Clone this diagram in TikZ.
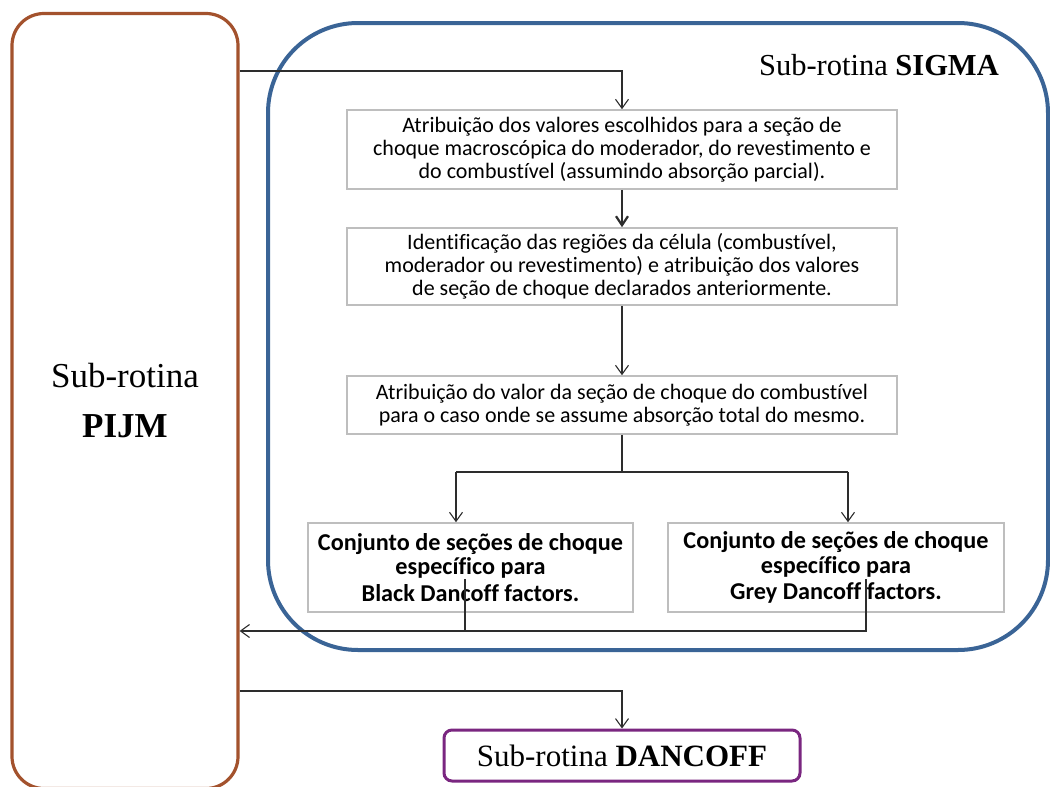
\documentclass[tikz,border=0pt]{standalone}
\usepackage{fontspec}
\setmainfont{Liberation Serif}
\newfontfamily\boxfont[Ligatures=NoCommon]{Carlito}
\usetikzlibrary{arrows.meta}
\definecolor{pijmbrown}{RGB}{163,82,45}
\definecolor{sigmablue}{RGB}{58,100,150}
\definecolor{dancpurple}{RGB}{122,38,128}
\definecolor{boxgray}{RGB}{190,190,190}
\definecolor{linkgray}{RGB}{45,45,45}
\begin{document}
\begin{tikzpicture}[x=1pt,y=-1pt,
  routine/.style={draw, rounded corners=#1, inner sep=0pt},
  stepbox/.style={draw=boxgray, line width=1.6pt, inner sep=0pt, align=center,
    font=\boxfont\fontsize{22}{23}\selectfont},
  setbox/.style={stepbox, font=\boxfont\bfseries\fontsize{24.2}{24.5}\selectfont},
  link/.style={draw=linkgray, line width=1.1pt},
  arr/.style={link, -{Straight Barb[length=9pt,width=13pt,line width=1.1pt]}},
  thickarr/.style={draw=linkgray, line width=2.2pt, -{Straight Barb[length=9pt,width=12pt,line width=2.2pt]}}
]
\useasboundingbox (0,0) rectangle (1050,787);
\clip (0,0) rectangle (1050,787);

% routine frames
\node[routine=32, draw=pijmbrown, line width=3.2pt, minimum width=226pt, minimum height=775pt,
  align=center, font=\fontsize{35}{48}\selectfont] (pijm) at (125,401)
  {Sub-rotina\\[2pt]\textbf{PIJM}};
\node[routine=90, draw=sigmablue, line width=4pt, minimum width=780pt, minimum height=627pt]
  (sigma) at (658,336.5) {};
\node[font=\fontsize{30.5}{36}\selectfont, anchor=base east, inner sep=0pt] (sigmalabel) at (999,75)
  {Sub-rotina \textbf{SIGMA}};
\node[routine=8, draw=dancpurple, line width=3pt, minimum width=356pt, minimum height=51pt,
  font=\fontsize{31}{36}\selectfont] (danc) at (622,755.5) {Sub-rotina \textbf{DANCOFF}};

% processing steps
\node[stepbox, minimum width=550pt, minimum height=79pt] (b1) at (622,149.5)
  {Atribuição dos valores escolhidos para a seção de\\
   choque macroscópica do moderador, do revestimento e\\
   do combustível (assumindo absorção parcial).};
\node[stepbox, minimum width=550pt, minimum height=77pt] (b2) at (622,266.5)
  {Identificação das regiões da célula (combustível,\\
   moderador ou revestimento) e atribuição dos valores\\
   de seção de choque declarados anteriormente.};
\node[stepbox, minimum width=550pt, minimum height=58pt] (b3) at (622,405)
  {Atribuição do valor da seção de choque do combustível\\
   para o caso onde se assume absorção total do mesmo.};
\node[setbox, minimum width=325pt, minimum height=89pt] (b4) at (470.5,567.5)
  {Conjunto de seções de choque\\ específico para\\[2pt] Black Dancoff factors.};
\node[setbox, minimum width=336pt, minimum height=89pt] (b5) at (836,567.5)
  {Conjunto de seções de choque\\ específico para\\[2pt] Grey Dancoff factors.};

% connection points
\coordinate (split) at (622,472);
\coordinate (r4) at (465,579);
\coordinate (r5) at (866,579);

% connectors
\draw[arr] (pijm.east |- {(0,71)}) -| (b1.north);
\draw[thickarr] (b1.south) -- (b2.north);
\draw[arr] (b2.south) -- (b3.north);
\draw[link] (b3.south) -- (split);
\draw[link] (456,472) -- (848,472);
\draw[arr] (456,472) -- (b4.north -| {(456,0)});
\draw[arr] (848,472) -- (b5.north -| {(848,0)});
\draw[link] (r4) -- (r4 |- {(0,631)});
\draw[arr] (r5) |- (pijm.east |- {(0,631)});
\draw[arr] (pijm.east |- {(0,691)}) -| (danc.north);
\end{tikzpicture}
\end{document}
